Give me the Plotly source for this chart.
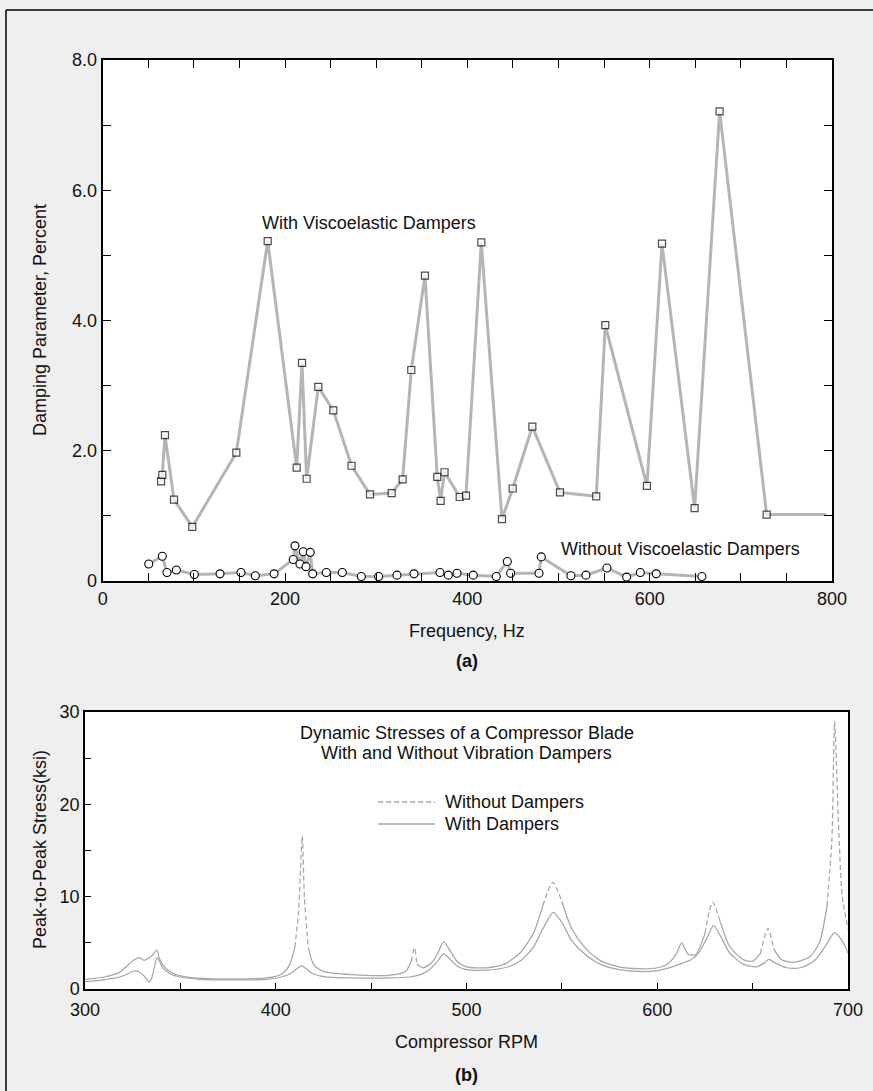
import plotly.graph_objects as go

W, H = 873, 1091

# ---------------- (a) Damping parameter data ----------------
freq_with = [64, 65.4, 68.3, 78.2, 98.3, 146.6, 181, 212.8, 218.6, 223.7, 236.5, 253, 273,
             293.2, 317, 329, 338.5, 353.5, 367, 370.7, 375, 391.6, 398.5, 415.3, 438,
             449.7, 471.3, 501.6, 541.4, 551.3, 597, 613.5, 649.3, 676.7, 728.3, 794]
damp_with = [1.53, 1.63, 2.24, 1.25, 0.83, 1.97, 5.22, 1.74, 3.35, 1.57, 2.98, 2.62, 1.77,
             1.33, 1.35, 1.56, 3.24, 4.69, 1.60, 1.23, 1.67, 1.29, 1.31, 5.20, 0.95,
             1.42, 2.37, 1.36, 1.30, 3.93, 1.46, 5.18, 1.12, 7.21, 1.02, 1.02]

freq_without = [50.5, 65.4, 70.5, 80.8, 100.5, 128.7, 151.7, 167.4, 188, 209, 210.9, 216.4,
                220, 223, 227.7, 230.3, 245.3, 262.8, 283.7, 302.7, 322.8, 341.5, 370,
                379.1, 388.6, 406.5, 431.7, 443.8, 447.5, 478.6, 481.1, 513.6, 530.1,
                553.1, 574.7, 589.7, 607.2, 657.3]
damp_without = [0.26, 0.38, 0.13, 0.17, 0.10, 0.11, 0.13, 0.08, 0.11, 0.33, 0.54, 0.26,
                0.45, 0.22, 0.44, 0.11, 0.13, 0.13, 0.07, 0.07, 0.09, 0.11, 0.13,
                0.09, 0.12, 0.09, 0.07, 0.30, 0.12, 0.12, 0.37, 0.08, 0.09,
                0.20, 0.06, 0.13, 0.11, 0.07]

# ---------------- (b) Dynamic stress data ----------------
rpm_with = [300, 310, 318, 322, 325.5, 328, 331, 333.7, 335, 336.5, 337.7, 339, 341, 345,
            350, 360, 380, 395, 403, 408, 411, 413.5, 416, 419, 425, 440, 460, 470, 475,
            480, 484, 488, 491, 495, 500, 510, 520, 528, 535, 540, 545.5, 550, 555, 562,
            570, 580, 590, 600, 608, 613, 618, 622, 626, 629.5, 633, 638, 645, 652, 656,
            658.5, 662, 668, 675, 682, 688, 693, 697, 700]
stress_with = [0.8, 1.0, 1.3, 1.6, 1.95, 1.9, 1.4, 0.75, 1.2, 2.5, 3.4, 3.0, 2.2, 1.6,
               1.3, 1.05, 0.98, 1.05, 1.3, 1.7, 2.2, 2.5, 2.2, 1.7, 1.35, 1.2, 1.2, 1.3, 1.5,
               2.0, 2.8, 3.8, 3.3, 2.5, 2.1, 2.05, 2.3, 3.0, 4.5, 6.5, 8.3, 7.2, 5.3, 3.8,
               2.7, 2.1, 1.9, 2.0, 2.4, 2.8, 3.2, 4.0, 5.5, 6.86, 5.8, 3.9, 2.7, 2.4, 2.8,
               3.2, 2.8, 2.3, 2.3, 3.0, 4.6, 6.1, 5.2, 3.9]

rpm_without = [300, 310, 318, 322, 326, 328.5, 331, 333, 335, 337.7, 339, 342, 346, 352,
               362, 380, 395, 403, 407, 410, 412, 413.9, 415, 417, 420, 425, 440, 460, 468,
               471, 472.7, 474, 477, 482, 485, 488, 491, 495, 500, 510, 520, 528, 535, 540,
               545.2, 550, 555, 562, 570, 580, 590, 600, 606, 610, 612.8, 616, 620, 625,
               629, 633, 638, 645, 650, 654, 658, 661, 665, 672, 680, 685, 689, 691.5, 693,
               695, 697, 700]
stress_without = [1.05, 1.3, 1.8, 2.5, 3.2, 3.4, 3.1, 3.3, 3.6, 4.2, 3.3, 2.3, 1.7, 1.35,
                  1.15, 1.1, 1.2, 1.6, 2.5, 4.5, 8.5, 16.6, 10, 4.5, 2.6, 1.9, 1.55, 1.5, 1.9,
                  3.0, 4.47, 2.7, 2.3, 2.9, 3.9, 5.1, 4.3, 3.0, 2.4, 2.3, 2.7, 3.9, 6.0, 9.0,
                  11.56, 9.5, 6.6, 4.5, 3.1, 2.4, 2.2, 2.3, 2.8, 3.8, 5.0, 3.8, 3.7, 6.0,
                  9.4, 7.3, 4.6, 3.2, 3.0, 3.8, 6.57, 4.4, 3.2, 2.9, 3.5, 5.0, 9.0, 16, 28.96,
                  18, 10, 6.5]

# RPM spans in which the "without dampers" curve shows its dash pattern (style only)
DASH_SPANS = [(409, 418), (470, 475), (539, 551), (624, 633), (655, 662), (688, 700)]

FONT = "Liberation Sans, Arial, Helvetica, sans-serif"
GREY = "#b5b5b5"
CURVE = "#a6a6a6"


def px(x):
    return x / W


def py(y):
    return 1 - y / H


def split_dashed(xs, ys, spans):
    """Split a polyline into a solid part and a dashed part (None separated)."""
    sx, sy, dx, dy = [], [], [], []
    for i in range(len(xs) - 1):
        mid = 0.5 * (xs[i] + xs[i + 1])
        dashed = any(a <= mid <= b for a, b in spans)
        tx, ty = (dx, dy) if dashed else (sx, sy)
        if tx and tx[-1] == xs[i]:
            tx.append(xs[i + 1]); ty.append(ys[i + 1])
        else:
            if tx:
                tx.append(None); ty.append(None)
            tx.extend([xs[i], xs[i + 1]]); ty.extend([ys[i], ys[i + 1]])
    return sx, sy, dx, dy


fig = go.Figure()

# top plot traces
sizes_with = [7] * (len(freq_with) - 1) + [0]
fig.add_trace(go.Scatter(
    x=freq_with, y=damp_with, mode="lines+markers", xaxis="x", yaxis="y",
    line=dict(color=GREY, width=3),
    marker=dict(symbol="square", size=sizes_with, color="white", line=dict(width=1.2, color="black")),
    showlegend=False, cliponaxis=False))
fig.add_trace(go.Scatter(
    x=freq_without, y=damp_without, mode="lines+markers", xaxis="x", yaxis="y",
    line=dict(color=GREY, width=3),
    marker=dict(symbol="circle", size=8, color="white", line=dict(width=1.1, color="black")),
    showlegend=False, cliponaxis=False))

# bottom plot traces
fig.add_trace(go.Scatter(
    x=rpm_with, y=stress_with, mode="lines", xaxis="x2", yaxis="y2",
    line=dict(color=CURVE, width=1.25, shape="spline", smoothing=0.7),
    showlegend=False))
sx, sy, dx, dy = split_dashed(rpm_without, stress_without, DASH_SPANS)
fig.add_trace(go.Scatter(
    x=sx, y=sy, mode="lines", xaxis="x2", yaxis="y2", connectgaps=False,
    line=dict(color=CURVE, width=1.25, shape="spline", smoothing=0.7),
    showlegend=False))
fig.add_trace(go.Scatter(
    x=dx, y=dy, mode="lines", xaxis="x2", yaxis="y2", connectgaps=False,
    line=dict(color=CURVE, width=1.25, dash="5px,3px", shape="spline", smoothing=0.7),
    showlegend=False))

tickfont = dict(family=FONT, size=18, color="#111")

fig.update_layout(
    template="none",
    width=W, height=H, autosize=False,
    margin=dict(l=0, r=0, t=0, b=0, pad=0, autoexpand=False),
    paper_bgcolor="#efefef",
    plot_bgcolor="white",
    showlegend=False,
    xaxis=dict(domain=[px(102.7), px(832)], range=[0, 800], tickvals=[0, 200, 400, 600, 800],
               ticks="inside", ticklen=8, tickwidth=1.2, tickcolor="black",
               minor=dict(dtick=50, ticks="inside", ticklen=8, tickwidth=1.2, tickcolor="black"),
               showline=True, linecolor="black", linewidth=2, mirror="ticks", automargin=False,
               showgrid=False, zeroline=False, tickfont=tickfont, anchor="y"),
    yaxis=dict(domain=[py(581), py(60)], range=[0, 8],
               tickvals=[0, 2, 4, 6, 8], ticktext=["0", "2.0", "4.0", "6.0", "8.0"],
               ticks="inside", ticklen=8, tickwidth=1.2, tickcolor="black",
               minor=dict(dtick=1, ticks="inside", ticklen=8, tickwidth=1.2, tickcolor="black"),
               showline=True, linecolor="black", linewidth=2, mirror="ticks", automargin=False,
               showgrid=False, zeroline=False, tickfont=tickfont, anchor="x"),
    xaxis2=dict(domain=[px(85), px(848)], range=[300, 700], tickvals=[300, 400, 500, 600, 700],
                ticks="inside", ticklen=6, tickwidth=1, tickcolor="black",
                minor=dict(dtick=50, ticks="inside", ticklen=6, tickwidth=1, tickcolor="black"),
                showline=True, linecolor="black", linewidth=1.5, mirror=True, automargin=False,
                ticklabelstandoff=4,
                showgrid=False, zeroline=False, tickfont=tickfont, anchor="y2"),
    yaxis2=dict(domain=[py(989), py(712)], range=[0, 30], tickvals=[0, 10, 20, 30],
                ticks="inside", ticklen=6, tickwidth=1, tickcolor="black",
                minor=dict(dtick=5, ticks="inside", ticklen=6, tickwidth=1, tickcolor="black"),
                showline=True, linecolor="black", linewidth=1.5, mirror=True, automargin=False,
                showgrid=False, zeroline=False, tickfont=tickfont, anchor="x2"),
)

txt = dict(family=FONT, size=18, color="#111")


def note(x, y, text, bold=False, angle=0, xanchor="center"):
    fig.add_annotation(x=px(x), y=py(y), xref="paper", yref="paper", text=text,
                       showarrow=False, textangle=angle, xanchor=xanchor, yanchor="middle",
                       font=dict(family=FONT, size=18, color="#111",
                                 weight="bold" if bold else "normal"))


# labels inside plot (a)
fig.add_annotation(x=292.6, y=5.5, xref="x", yref="y", text="With Viscoelastic Dampers",
                   showarrow=False, font=txt)
fig.add_annotation(x=633.8, y=0.49, xref="x", yref="y", text="Without Viscoelastic Dampers",
                   showarrow=False, font=txt)

note(40, 320, "Damping Parameter, Percent", angle=-90)
note(467, 631, "Frequency, Hz")
note(467, 661, "(a)", bold=True)

note(466.5, 733, "Dynamic Stresses of a Compressor Blade")
note(466.5, 753, "With and Without Vibration Dampers")
note(443, 802, "Without Dampers", xanchor="left")
note(443, 824, "With Dampers", xanchor="left")
note(40, 850, "Peak-to-Peak Stress(ksi)", angle=-90)
note(466, 1042, "Compressor RPM")
note(466, 1075, "(b)", bold=True)

# legend samples
fig.add_shape(type="line", xref="paper", yref="paper", x0=px(378), x1=px(435), y0=py(802), y1=py(802),
              line=dict(color=CURVE, width=1.3, dash="5px,3px"))
fig.add_shape(type="line", xref="paper", yref="paper", x0=px(378), x1=px(435), y0=py(824), y1=py(824),
              line=dict(color=CURVE, width=1.3))

# outer frame (left and top edges)
fig.add_shape(type="line", xref="paper", yref="paper", x0=px(6), x1=px(6), y0=py(10), y1=0,
              line=dict(color="black", width=1.5))
fig.add_shape(type="line", xref="paper", yref="paper", x0=px(6), x1=1, y0=py(10), y1=py(10),
              line=dict(color="black", width=1.5))

fig.write_html(
    "out.html",
    config={"responsive": False, "displayModeBar": False},
    post_script="document.body.style.margin='0';document.body.style.padding='0';"
                "document.body.style.overflow='hidden';"
                "document.documentElement.style.overflow='hidden';",
)
